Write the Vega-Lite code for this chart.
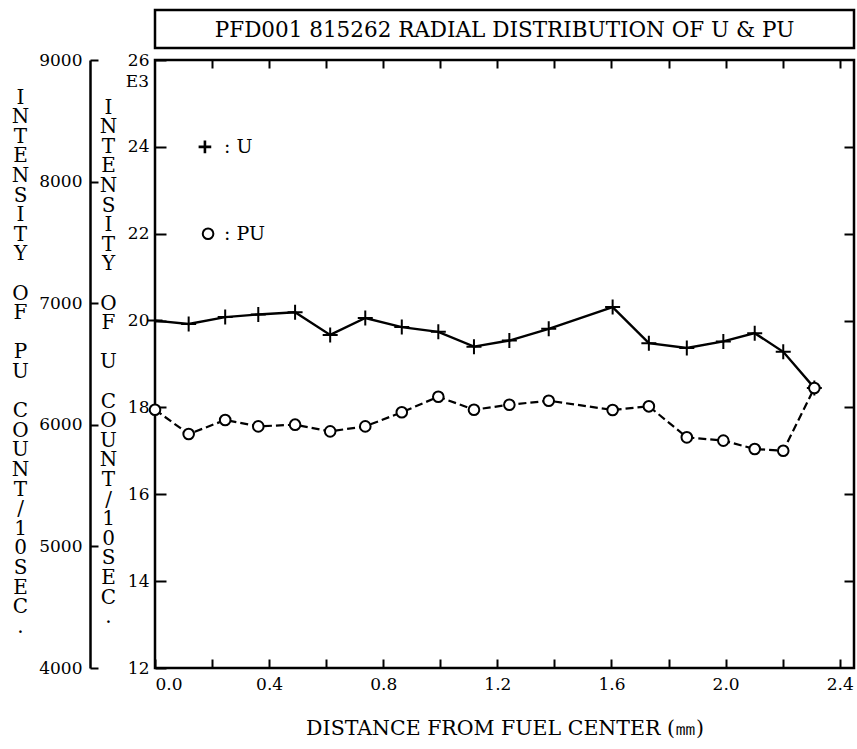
{
  "$schema": "https://vega.github.io/schema/vega-lite/v6.json",
  "background": "white",
  "padding": {"left": 10, "top": 8, "right": 0, "bottom": 0},
  "spacing": 12,
  "bounds": "flush",
  "config": {
    "view": {"stroke": "black", "strokeWidth": 2.5},
    "font": "DejaVu Serif"
  },
  "vconcat": [
    {
      "width": 699,
      "height": 38,
      "data": {"values": [{"t": "PFD001 815262 RADIAL DISTRIBUTION OF U & PU", "px": 0.5, "py": 0.45}]},
      "mark": {"type": "text", "font": "DejaVu Serif", "fontSize": 21.5, "align": "center", "baseline": "middle", "color": "black"},
      "encoding": {
        "x": {"field": "px", "type": "quantitative", "scale": {"domain": [0, 1]}, "axis": null},
        "y": {"field": "py", "type": "quantitative", "scale": {"domain": [0, 1]}, "axis": null},
        "text": {"field": "t"}
      }
    },
    {
      "width": 699,
      "height": 608,
      "data": {"values": [
        {"x": 0.0, "U": 20.0, "PU": 6124},
        {"x": 0.118, "U": 19.92, "PU": 5924},
        {"x": 0.246, "U": 20.08, "PU": 6039},
        {"x": 0.362, "U": 20.14, "PU": 5987},
        {"x": 0.491, "U": 20.19, "PU": 6001},
        {"x": 0.614, "U": 19.67, "PU": 5946},
        {"x": 0.737, "U": 20.06, "PU": 5987},
        {"x": 0.865, "U": 19.85, "PU": 6103},
        {"x": 0.993, "U": 19.74, "PU": 6231},
        {"x": 1.118, "U": 19.40, "PU": 6124},
        {"x": 1.242, "U": 19.54, "PU": 6165},
        {"x": 1.380, "U": 19.81, "PU": 6198},
        {"x": 1.604, "U": 20.31, "PU": 6122},
        {"x": 1.731, "U": 19.48, "PU": 6152},
        {"x": 1.864, "U": 19.37, "PU": 5897},
        {"x": 1.992, "U": 19.52, "PU": 5870},
        {"x": 2.102, "U": 19.71, "PU": 5801},
        {"x": 2.202, "U": 19.28, "PU": 5787},
        {"x": 2.311, "U": 18.45, "PU": 6303}
      ]},
      "resolve": {"scale": {"x": "independent", "y": "independent"}},
      "layer": [
        {
          "encoding": {
            "x": {"field": "x", "type": "quantitative", "scale": {"domain": [0, 2.45], "nice": false, "zero": false},
              "axis": {"orient": "bottom", "values": [0, 0.2, 0.4, 0.6, 0.8, 1, 1.2, 1.4, 1.6, 1.8, 2, 2.2, 2.4],
                "labelExpr": "(round(datum.value*10) % 4 == 0) ? format(datum.value, '.1f') : ''",
                "domain": false, "grid": false, "tickSize": -9, "tickWidth": 2, "tickColor": "black",
                "labelPadding": 17, "labelFont": "DejaVu Serif", "labelFontSize": 17, "labelColor": "black", "labelFlush": true, "labelOverlap": false,
                "title": "DISTANCE FROM FUEL CENTER (㎜)", "titleFont": "DejaVu Serif", "titleFontSize": 20.5, "titleFontWeight": "normal", "titleColor": "black",
                "titleY": 60, "titleBaseline": "middle"}},
            "y": {"field": "U", "type": "quantitative", "scale": {"domain": [12, 26], "nice": false, "zero": false},
              "axis": {"orient": "left", "values": [12, 14, 16, 18, 20, 22, 24, 26], "domain": false, "grid": false,
                "tickSize": -11, "tickWidth": 2, "tickColor": "black", "labelPadding": 17,
                "labelFont": "DejaVu Serif", "labelFontSize": 17, "labelColor": "black", "labelOverlap": false,
                "title": ["I","N","T","E","N","S","I","T","Y","\u2800","O","F","\u2800","U","\u2800","C","O","U","N","T","/","1","0","S","E","C","."],
                "titleFont": "DejaVu Serif", "titleFontSize": 20, "titleFontWeight": "normal", "titleColor": "black",
                "titleAngle": 0, "titleAlign": "center", "titleBaseline": "middle", "titleLineHeight": 19.6,
                "titleX": -47, "titleY": 47}}
          },
          "layer": [
            {"mark": {"type": "line", "color": "black", "strokeWidth": 2.4}, "encoding": {}},
            {"mark": {"type": "point", "shape": "M-1,0H1M0,-1V1", "size": 225, "stroke": "black", "strokeWidth": 2, "filled": false, "opacity": 1}, "encoding": {}}
          ]
        },
        {
          "encoding": {
            "x": {"field": "x", "type": "quantitative", "scale": {"domain": [0, 2.45], "nice": false, "zero": false}, "axis": null},
            "y": {"field": "PU", "type": "quantitative", "scale": {"domain": [4000, 9000], "nice": false, "zero": false},
              "axis": {"orient": "left", "offset": 65, "values": [4000, 5000, 6000, 7000, 8000, 9000], "format": "d",
                "domain": true, "domainColor": "black", "domainWidth": 2.5, "grid": false,
                "tickSize": -8, "tickWidth": 2, "tickColor": "black", "labelPadding": 16,
                "labelFont": "DejaVu Serif", "labelFontSize": 17, "labelColor": "black", "labelOverlap": false,
                "title": ["I","N","T","E","N","S","I","T","Y","\u2800","O","F","\u2800","P","U","\u2800","C","O","U","N","T","/","1","0","S","E","C","."],
                "titleFont": "DejaVu Serif", "titleFontSize": 20, "titleFontWeight": "normal", "titleColor": "black",
                "titleAngle": 0, "titleAlign": "center", "titleBaseline": "middle", "titleLineHeight": 19.6,
                "titleX": -70, "titleY": 37}}
          },
          "layer": [
            {"mark": {"type": "line", "color": "black", "strokeWidth": 2.2, "strokeDash": [8, 4]}, "encoding": {}},
            {"mark": {"type": "point", "shape": "circle", "size": 113, "stroke": "black", "strokeWidth": 2, "fill": "white", "filled": true, "opacity": 1}, "encoding": {}}
          ]
        },
        {
          "data": {"values": [
            {"x": 0.175, "y": 24, "kind": "plus", "label": ""},
            {"x": 0.186, "y": 22, "kind": "circle", "label": ""},
            {"x": 0.242, "y": 24, "kind": "text", "label": ": U"},
            {"x": 0.242, "y": 22, "kind": "text", "label": ": PU"},
            {"x": -0.021, "y": 25.5, "kind": "unit", "label": "E3"}
          ]},
          "encoding": {
            "x": {"field": "x", "type": "quantitative", "scale": {"domain": [0, 2.45], "nice": false, "zero": false},
              "axis": {"orient": "top", "values": [0.2, 0.4, 0.6, 0.8, 1, 1.2, 1.4, 1.6, 1.8, 2, 2.2, 2.4], "labels": false, "domain": false, "grid": false,
                "tickSize": -8, "tickWidth": 2, "tickColor": "black", "title": null}},
            "y": {"field": "y", "type": "quantitative", "scale": {"domain": [12, 26], "nice": false, "zero": false},
              "axis": {"orient": "right", "values": [14, 16, 18, 20, 22, 24], "labels": false, "domain": false, "grid": false,
                "tickSize": -10, "tickWidth": 2, "tickColor": "black", "title": null}}
          },
          "layer": [
            {"transform": [{"filter": "datum.kind == 'plus'"}],
              "mark": {"type": "point", "shape": "M-1,0H1M0,-1V1", "size": 160, "stroke": "black", "strokeWidth": 2.6, "filled": false, "opacity": 1}, "encoding": {}},
            {"transform": [{"filter": "datum.kind == 'circle'"}],
              "mark": {"type": "point", "shape": "circle", "size": 113, "stroke": "black", "strokeWidth": 2, "fill": "white", "filled": true, "opacity": 1}, "encoding": {}},
            {"transform": [{"filter": "datum.kind == 'text'"}],
              "mark": {"type": "text", "font": "DejaVu Serif", "fontSize": 19, "align": "left", "baseline": "middle", "color": "black"},
              "encoding": {"text": {"field": "label"}}},
            {"transform": [{"filter": "datum.kind == 'unit'"}],
              "mark": {"type": "text", "font": "DejaVu Serif", "fontSize": 17, "align": "right", "baseline": "middle", "color": "black"},
              "encoding": {"text": {"field": "label"}}}
          ]
        }
      ]
    }
  ]
}
